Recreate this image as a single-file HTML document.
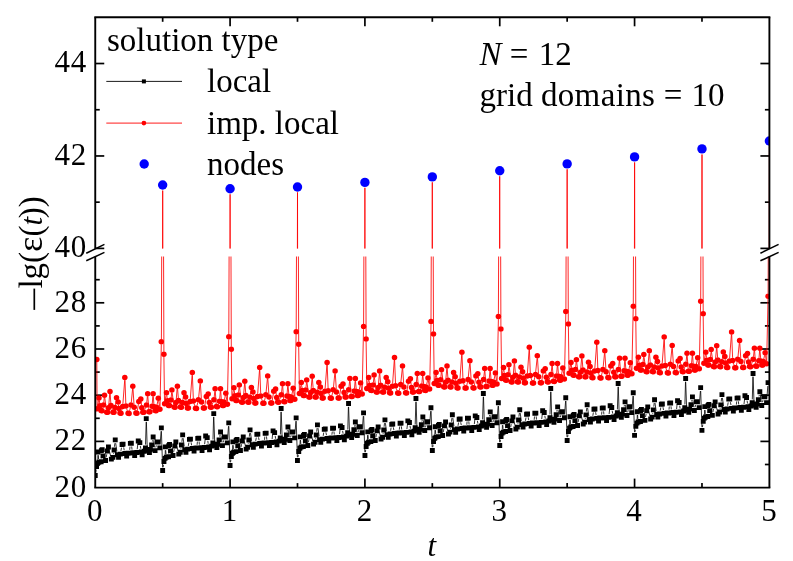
<!DOCTYPE html>
<html><head><meta charset="utf-8"><title>chart</title>
<style>html,body{margin:0;padding:0;background:#fff;}svg{display:block;}text{font-family:"Liberation Serif",serif;fill:#000;}</style>
</head><body>
<svg width="793" height="561" viewBox="0 0 793 561" style="will-change:transform">
<rect x="0" y="0" width="793" height="561" fill="#fff"/>
<defs><clipPath id="cp"><rect x="95.25" y="17.30" width="674.15" height="470.30"/></clipPath></defs>
<g stroke="#000" stroke-width="1.70" fill="none">
<line x1="162.66" y1="17.30" x2="162.66" y2="21.80"/>
<line x1="162.66" y1="487.60" x2="162.66" y2="483.10"/>
<line x1="230.08" y1="17.30" x2="230.08" y2="26.30"/>
<line x1="230.08" y1="487.60" x2="230.08" y2="478.60"/>
<line x1="297.50" y1="17.30" x2="297.50" y2="21.80"/>
<line x1="297.50" y1="487.60" x2="297.50" y2="483.10"/>
<line x1="364.91" y1="17.30" x2="364.91" y2="26.30"/>
<line x1="364.91" y1="487.60" x2="364.91" y2="478.60"/>
<line x1="432.32" y1="17.30" x2="432.32" y2="21.80"/>
<line x1="432.32" y1="487.60" x2="432.32" y2="483.10"/>
<line x1="499.74" y1="17.30" x2="499.74" y2="26.30"/>
<line x1="499.74" y1="487.60" x2="499.74" y2="478.60"/>
<line x1="567.15" y1="17.30" x2="567.15" y2="21.80"/>
<line x1="567.15" y1="487.60" x2="567.15" y2="483.10"/>
<line x1="634.57" y1="17.30" x2="634.57" y2="26.30"/>
<line x1="634.57" y1="487.60" x2="634.57" y2="478.60"/>
<line x1="701.98" y1="17.30" x2="701.98" y2="21.80"/>
<line x1="701.98" y1="487.60" x2="701.98" y2="483.10"/>
<line x1="95.25" y1="464.50" x2="99.75" y2="464.50"/>
<line x1="769.40" y1="464.50" x2="764.90" y2="464.50"/>
<line x1="95.25" y1="441.40" x2="104.25" y2="441.40"/>
<line x1="769.40" y1="441.40" x2="760.40" y2="441.40"/>
<line x1="95.25" y1="418.30" x2="99.75" y2="418.30"/>
<line x1="769.40" y1="418.30" x2="764.90" y2="418.30"/>
<line x1="95.25" y1="395.20" x2="104.25" y2="395.20"/>
<line x1="769.40" y1="395.20" x2="760.40" y2="395.20"/>
<line x1="95.25" y1="372.10" x2="99.75" y2="372.10"/>
<line x1="769.40" y1="372.10" x2="764.90" y2="372.10"/>
<line x1="95.25" y1="349.00" x2="104.25" y2="349.00"/>
<line x1="769.40" y1="349.00" x2="760.40" y2="349.00"/>
<line x1="95.25" y1="325.90" x2="99.75" y2="325.90"/>
<line x1="769.40" y1="325.90" x2="764.90" y2="325.90"/>
<line x1="95.25" y1="302.80" x2="104.25" y2="302.80"/>
<line x1="769.40" y1="302.80" x2="760.40" y2="302.80"/>
<line x1="95.25" y1="279.70" x2="99.75" y2="279.70"/>
<line x1="769.40" y1="279.70" x2="764.90" y2="279.70"/>
<line x1="95.25" y1="248.40" x2="104.25" y2="248.40"/>
<line x1="769.40" y1="248.40" x2="760.40" y2="248.40"/>
<line x1="95.25" y1="202.18" x2="99.75" y2="202.18"/>
<line x1="769.40" y1="202.18" x2="764.90" y2="202.18"/>
<line x1="95.25" y1="155.96" x2="104.25" y2="155.96"/>
<line x1="769.40" y1="155.96" x2="760.40" y2="155.96"/>
<line x1="95.25" y1="109.74" x2="99.75" y2="109.74"/>
<line x1="769.40" y1="109.74" x2="764.90" y2="109.74"/>
<line x1="95.25" y1="63.52" x2="104.25" y2="63.52"/>
<line x1="769.40" y1="63.52" x2="760.40" y2="63.52"/>
</g>
<defs><clipPath id="cl"><rect x="95.25" y="256.60" width="674.15" height="231.00"/></clipPath><clipPath id="cu"><rect x="95.25" y="17.30" width="674.15" height="231.10"/></clipPath></defs>
<g clip-path="url(#cl)">
<path fill="none" stroke="#000" stroke-width="0.8" d="M95.7,472.3L96.1,469.8M97.8,460.0L97.9,455.2M98.3,455.2L98.6,459.0M101.2,458.4L101.3,453.9M106.2,457.3L106.8,454.2M109.2,450.3L110.6,456.0M113.4,454.1L113.5,453.3M114.4,446.8L114.9,443.2M115.7,443.2L116.9,451.5M120.9,450.9L121.5,447.7M123.7,447.4L124.2,450.3M129.7,449.8L130.0,446.6M131.7,446.5L132.0,449.6M137.2,449.2L137.8,444.2M140.3,445.9L140.8,448.7M145.5,444.6L146.2,421.9M146.4,421.9L147.2,447.0M152.3,441.6L152.5,440.3M153.6,440.3L154.6,447.4M155.8,447.4L156.3,445.3M160.1,444.6L161.1,431.2M161.4,431.2L162.6,467.3M163.1,467.3L163.5,464.8M165.2,455.0L165.3,450.2M165.7,450.2L166.0,454.0M168.6,453.4L168.7,448.9M173.6,452.3L174.2,449.2M176.6,445.2L178.0,451.0M180.8,449.0L180.9,448.3M181.9,441.8L182.3,438.2M183.1,438.1L184.3,446.5M188.3,445.9L188.9,442.6M191.1,442.4L191.6,445.3M197.1,444.8L197.4,441.6M199.1,441.5L199.4,444.6M204.6,444.2L205.2,439.2M207.8,440.9L208.2,443.7M213.0,439.5L213.6,416.9M213.8,416.9L214.7,441.9M219.7,436.6L219.9,435.2M221.0,435.3L222.0,442.3M223.2,442.4L223.7,440.3M227.5,439.6L228.5,426.2M228.8,426.2L230.0,462.2M230.5,462.3L230.9,459.8M232.6,450.0L232.8,445.2M233.1,445.2L233.4,448.9M236.0,448.4L236.1,443.9M241.0,447.3L241.6,444.2M244.0,440.2L245.4,445.9M248.2,444.0L248.3,443.3M249.3,436.7L249.7,433.1M250.5,433.1L251.7,441.4M255.7,440.9L256.3,437.6M258.5,437.4L259.1,440.3M264.5,439.8L264.8,436.6M266.5,436.5L266.8,439.6M272.1,439.2L272.6,434.2M275.2,435.9L275.6,438.7M280.4,434.5L281.0,411.9M281.2,411.9L282.1,436.9M287.1,431.6L287.4,430.2M288.4,430.2L289.4,437.3M290.6,437.4L291.1,435.3M294.9,434.5L295.9,421.1M296.2,421.1L297.4,457.2M298.0,457.2L298.3,454.8M300.0,445.0L300.2,440.1M300.5,440.1L300.8,443.9M303.5,443.4L303.5,438.9M308.4,442.3L309.0,439.2M311.5,435.2L312.8,440.9M315.6,439.0L315.8,438.2M316.7,431.7L317.1,428.1M318.0,428.1L319.1,436.4M323.2,435.9L323.7,432.6M325.9,432.3L326.5,435.2M331.9,434.7L332.3,431.6M333.9,431.5L334.3,434.5M339.5,434.1L340.1,429.1M342.6,430.9L343.1,433.7M347.8,429.5L348.4,406.9M348.6,406.9L349.5,431.9M354.5,426.6L354.8,425.2M355.9,425.2L356.8,432.3M358.0,432.4L358.5,430.2M362.3,429.5L363.3,416.1M363.7,416.1L364.8,452.2M365.4,452.2L365.7,449.7M367.4,440.0L367.6,435.1M368.0,435.1L368.3,438.9M370.9,438.3L371.0,433.8M375.9,437.2L376.4,434.1M378.9,430.2L380.2,435.9M383.0,434.0L383.2,433.2M384.1,426.7L384.5,423.1M385.4,423.1L386.5,431.4M390.6,430.8L391.1,427.6M393.3,427.3L393.9,430.2M399.3,429.7L399.7,426.5M401.4,426.4L401.7,429.5M406.9,429.1L407.5,424.1M410.0,425.8L410.5,428.6M415.2,424.5L415.9,401.8M416.1,401.8L416.9,426.9M421.9,421.5L422.2,420.2M423.3,420.2L424.3,427.3M425.5,427.3L426.0,425.2M429.7,424.5L430.7,411.1M431.1,411.1L432.2,447.2M432.8,447.2L433.1,444.7M434.8,434.9L435.0,430.1M435.4,430.1L435.7,433.9M438.3,433.3L438.4,428.8M443.3,432.2L443.8,429.1M446.3,425.1L447.7,430.9M450.5,428.9L450.6,428.2M451.5,421.7L451.9,418.1M452.8,418.0L454.0,426.4M458.0,425.8L458.6,422.5M460.7,422.3L461.3,425.2M466.8,424.7L467.1,421.5M468.8,421.4L469.1,424.5M474.3,424.1L474.9,419.1M477.4,420.8L477.9,423.6M482.6,419.4L483.3,396.8M483.5,396.8L484.3,421.8M489.3,416.5L489.6,415.1M490.7,415.2L491.7,422.3M492.9,422.3L493.4,420.2M497.2,419.5L498.1,406.1M498.5,406.1L499.6,442.1M500.2,442.2L500.5,439.7M502.3,429.9L502.4,425.1M502.8,425.1L503.1,428.8M505.7,428.3L505.8,423.8M510.7,427.2L511.2,424.1M513.7,420.1L515.1,425.8M517.9,423.9L518.0,423.2M518.9,416.6L519.4,413.0M520.2,413.0L521.4,421.3M525.4,420.8L526.0,417.5M528.2,417.3L528.7,420.2M534.2,419.7L534.5,416.5M536.2,416.4L536.5,419.5M541.7,419.1L542.3,414.1M544.8,415.8L545.3,418.6M550.0,414.4L550.7,391.8M550.9,391.8L551.7,416.8M556.8,411.5L557.0,410.1M558.1,410.1L559.1,417.2M560.3,417.3L560.8,415.2M564.6,414.4L565.6,401.0M565.9,401.0L567.0,437.1M567.6,437.2L568.0,434.7M569.7,424.9L569.8,420.0M570.2,420.0L570.5,423.8M573.1,423.3L573.2,418.8M578.1,422.2L578.7,419.1M581.1,415.1L582.5,420.8M585.3,418.9L585.4,418.1M586.3,411.6L586.8,408.0M587.6,408.0L588.8,416.3M592.8,415.8L593.4,412.5M595.6,412.2L596.1,415.1M601.6,414.6L601.9,411.5M603.6,411.4L603.9,414.4M609.1,414.0L609.7,409.0M612.2,410.8L612.7,413.6M617.4,409.4L618.1,386.8M618.3,386.8L619.1,411.8M624.2,406.5L624.4,405.1M625.5,405.1L626.5,412.2M627.7,412.3L628.2,410.1M632.0,409.4L633.0,396.0M633.3,396.0L634.5,432.1M635.0,432.1L635.4,429.7M637.1,419.9L637.3,415.0M637.6,415.0L637.9,418.8M640.5,418.2L640.6,413.7M645.5,417.1L646.1,414.0M648.5,410.1L649.9,415.8M652.7,413.9L652.8,413.1M653.8,406.6L654.2,403.0M655.0,403.0L656.2,411.3M660.2,410.7L660.8,407.5M663.0,407.2L663.5,410.1M669.0,409.6L669.3,406.5M671.0,406.3L671.3,409.4M676.6,409.0L677.1,404.0M679.7,405.7L680.1,408.5M684.9,404.4L685.5,381.8M685.7,381.8L686.6,406.8M691.6,401.4L691.9,400.1M692.9,400.1L693.9,407.2M695.1,407.2L695.6,405.1M699.4,404.4L700.4,391.0M700.7,391.0L701.9,427.1M702.4,427.1L702.8,424.6M704.5,414.8L704.7,410.0M705.0,410.0L705.3,413.8M707.9,413.2L708.0,408.7M712.9,412.1L713.5,409.0M716.0,405.1L717.3,410.8M720.1,408.8L720.2,408.1M721.2,401.6L721.6,398.0M722.4,397.9L723.6,406.3M727.6,405.7L728.2,402.4M730.4,402.2L731.0,405.1M736.4,404.6L736.7,401.4M738.4,401.3L738.7,404.4M744.0,404.0L744.6,399.0M747.1,400.7L747.5,403.5M752.3,399.4L752.9,376.7M753.1,376.7L754.0,401.7M759.0,396.4L759.3,395.0M760.3,395.1L761.3,402.2M762.5,402.2L763.0,400.1M766.8,399.4L767.8,386.0"/>
<path fill="#000" d="M92.8,473.1h4.9v4.9h-4.9zM94.1,464.1h4.9v4.9h-4.9zM95.2,460.9h4.9v4.9h-4.9zM95.6,449.5h4.9v4.9h-4.9zM96.4,459.8h4.9v4.9h-4.9zM98.7,459.3h4.9v4.9h-4.9zM98.9,448.2h4.9v4.9h-4.9zM99.7,447.2h4.9v4.9h-4.9zM100.7,453.4h4.9v4.9h-4.9zM103.1,458.1h4.9v4.9h-4.9zM104.9,448.5h4.9v4.9h-4.9zM106.0,444.6h4.9v4.9h-4.9zM108.9,456.7h4.9v4.9h-4.9zM110.4,454.9h4.9v4.9h-4.9zM111.6,447.6h4.9v4.9h-4.9zM112.8,437.4h4.9v4.9h-4.9zM114.9,452.3h4.9v4.9h-4.9zM116.1,454.9h4.9v4.9h-4.9zM117.9,451.7h4.9v4.9h-4.9zM119.6,442.0h4.9v4.9h-4.9zM120.6,441.7h4.9v4.9h-4.9zM122.4,451.1h4.9v4.9h-4.9zM124.2,453.7h4.9v4.9h-4.9zM125.4,450.8h4.9v4.9h-4.9zM126.9,450.7h4.9v4.9h-4.9zM127.9,440.9h4.9v4.9h-4.9zM128.9,440.8h4.9v4.9h-4.9zM129.9,450.4h4.9v4.9h-4.9zM131.4,450.3h4.9v4.9h-4.9zM132.2,453.2h4.9v4.9h-4.9zM134.4,450.0h4.9v4.9h-4.9zM135.8,438.5h4.9v4.9h-4.9zM137.4,440.2h4.9v4.9h-4.9zM138.9,449.5h4.9v4.9h-4.9zM139.7,452.3h4.9v4.9h-4.9zM141.9,448.8h4.9v4.9h-4.9zM143.0,445.4h4.9v4.9h-4.9zM143.8,416.2h4.9v4.9h-4.9zM144.9,447.8h4.9v4.9h-4.9zM147.0,450.0h4.9v4.9h-4.9zM147.9,446.9h4.9v4.9h-4.9zM149.2,442.4h4.9v4.9h-4.9zM150.7,434.6h4.9v4.9h-4.9zM152.6,448.2h4.9v4.9h-4.9zM154.6,439.6h4.9v4.9h-4.9zM155.4,439.4h4.9v4.9h-4.9zM157.4,445.4h4.9v4.9h-4.9zM158.9,425.4h4.9v4.9h-4.9zM160.2,468.1h4.9v4.9h-4.9zM161.5,459.1h4.9v4.9h-4.9zM162.6,455.9h4.9v4.9h-4.9zM163.0,444.4h4.9v4.9h-4.9zM163.8,454.8h4.9v4.9h-4.9zM166.1,454.3h4.9v4.9h-4.9zM166.3,443.2h4.9v4.9h-4.9zM167.1,442.1h4.9v4.9h-4.9zM168.1,448.4h4.9v4.9h-4.9zM170.6,453.1h4.9v4.9h-4.9zM172.3,443.5h4.9v4.9h-4.9zM173.4,439.6h4.9v4.9h-4.9zM176.3,451.7h4.9v4.9h-4.9zM177.8,449.8h4.9v4.9h-4.9zM179.0,442.6h4.9v4.9h-4.9zM180.2,432.4h4.9v4.9h-4.9zM182.3,447.3h4.9v4.9h-4.9zM183.5,449.9h4.9v4.9h-4.9zM185.3,446.7h4.9v4.9h-4.9zM187.0,436.9h4.9v4.9h-4.9zM188.0,436.7h4.9v4.9h-4.9zM189.8,446.1h4.9v4.9h-4.9zM191.6,448.7h4.9v4.9h-4.9zM192.8,445.7h4.9v4.9h-4.9zM194.3,445.6h4.9v4.9h-4.9zM195.3,435.9h4.9v4.9h-4.9zM196.3,435.8h4.9v4.9h-4.9zM197.3,445.4h4.9v4.9h-4.9zM198.8,445.3h4.9v4.9h-4.9zM199.6,448.1h4.9v4.9h-4.9zM201.8,445.0h4.9v4.9h-4.9zM203.2,433.5h4.9v4.9h-4.9zM204.8,435.2h4.9v4.9h-4.9zM206.3,444.5h4.9v4.9h-4.9zM207.1,447.3h4.9v4.9h-4.9zM209.3,443.7h4.9v4.9h-4.9zM210.4,440.4h4.9v4.9h-4.9zM211.3,411.2h4.9v4.9h-4.9zM212.3,442.8h4.9v4.9h-4.9zM214.4,445.0h4.9v4.9h-4.9zM215.3,441.8h4.9v4.9h-4.9zM216.6,437.4h4.9v4.9h-4.9zM218.1,429.5h4.9v4.9h-4.9zM220.0,443.2h4.9v4.9h-4.9zM222.0,434.6h4.9v4.9h-4.9zM222.8,434.4h4.9v4.9h-4.9zM224.8,440.4h4.9v4.9h-4.9zM226.3,420.4h4.9v4.9h-4.9zM227.6,463.1h4.9v4.9h-4.9zM228.9,454.1h4.9v4.9h-4.9zM230.0,450.8h4.9v4.9h-4.9zM230.4,439.4h4.9v4.9h-4.9zM231.2,449.8h4.9v4.9h-4.9zM233.5,449.2h4.9v4.9h-4.9zM233.7,438.1h4.9v4.9h-4.9zM234.5,437.1h4.9v4.9h-4.9zM235.5,443.3h4.9v4.9h-4.9zM238.0,448.1h4.9v4.9h-4.9zM239.7,438.5h4.9v4.9h-4.9zM240.8,434.6h4.9v4.9h-4.9zM243.7,446.7h4.9v4.9h-4.9zM245.2,444.8h4.9v4.9h-4.9zM246.4,437.6h4.9v4.9h-4.9zM247.6,427.4h4.9v4.9h-4.9zM249.7,442.3h4.9v4.9h-4.9zM250.9,444.8h4.9v4.9h-4.9zM252.7,441.7h4.9v4.9h-4.9zM254.4,431.9h4.9v4.9h-4.9zM255.4,431.7h4.9v4.9h-4.9zM257.2,441.1h4.9v4.9h-4.9zM259.0,443.7h4.9v4.9h-4.9zM260.2,440.7h4.9v4.9h-4.9zM261.7,440.6h4.9v4.9h-4.9zM262.7,430.9h4.9v4.9h-4.9zM263.7,430.7h4.9v4.9h-4.9zM264.7,440.4h4.9v4.9h-4.9zM266.2,440.3h4.9v4.9h-4.9zM267.0,443.1h4.9v4.9h-4.9zM269.2,440.0h4.9v4.9h-4.9zM270.6,428.4h4.9v4.9h-4.9zM272.2,430.2h4.9v4.9h-4.9zM273.7,439.5h4.9v4.9h-4.9zM274.5,442.3h4.9v4.9h-4.9zM276.7,438.7h4.9v4.9h-4.9zM277.8,435.4h4.9v4.9h-4.9zM278.7,406.1h4.9v4.9h-4.9zM279.7,437.8h4.9v4.9h-4.9zM281.8,440.0h4.9v4.9h-4.9zM282.7,436.8h4.9v4.9h-4.9zM284.0,432.4h4.9v4.9h-4.9zM285.5,424.5h4.9v4.9h-4.9zM287.4,438.1h4.9v4.9h-4.9zM289.4,429.6h4.9v4.9h-4.9zM290.2,429.4h4.9v4.9h-4.9zM292.2,435.4h4.9v4.9h-4.9zM293.7,415.4h4.9v4.9h-4.9zM295.0,458.1h4.9v4.9h-4.9zM296.3,449.1h4.9v4.9h-4.9zM297.4,445.8h4.9v4.9h-4.9zM297.8,434.4h4.9v4.9h-4.9zM298.6,444.7h4.9v4.9h-4.9zM300.9,444.2h4.9v4.9h-4.9zM301.1,433.1h4.9v4.9h-4.9zM301.9,432.1h4.9v4.9h-4.9zM302.9,438.3h4.9v4.9h-4.9zM305.4,443.1h4.9v4.9h-4.9zM307.1,433.5h4.9v4.9h-4.9zM308.2,429.5h4.9v4.9h-4.9zM311.1,441.7h4.9v4.9h-4.9zM312.6,439.8h4.9v4.9h-4.9zM313.8,432.5h4.9v4.9h-4.9zM315.0,422.4h4.9v4.9h-4.9zM317.1,437.2h4.9v4.9h-4.9zM318.3,439.8h4.9v4.9h-4.9zM320.1,436.7h4.9v4.9h-4.9zM321.8,426.9h4.9v4.9h-4.9zM322.8,426.6h4.9v4.9h-4.9zM324.6,436.0h4.9v4.9h-4.9zM326.4,438.7h4.9v4.9h-4.9zM327.6,435.7h4.9v4.9h-4.9zM329.1,435.6h4.9v4.9h-4.9zM330.1,425.8h4.9v4.9h-4.9zM331.1,425.7h4.9v4.9h-4.9zM332.1,435.4h4.9v4.9h-4.9zM333.6,435.3h4.9v4.9h-4.9zM334.4,438.1h4.9v4.9h-4.9zM336.6,435.0h4.9v4.9h-4.9zM338.0,423.4h4.9v4.9h-4.9zM339.6,425.1h4.9v4.9h-4.9zM341.1,434.5h4.9v4.9h-4.9zM341.9,437.3h4.9v4.9h-4.9zM344.1,433.7h4.9v4.9h-4.9zM345.2,430.3h4.9v4.9h-4.9zM346.1,401.1h4.9v4.9h-4.9zM347.1,432.7h4.9v4.9h-4.9zM349.2,435.0h4.9v4.9h-4.9zM350.1,431.8h4.9v4.9h-4.9zM351.4,427.3h4.9v4.9h-4.9zM352.9,419.5h4.9v4.9h-4.9zM354.8,433.1h4.9v4.9h-4.9zM356.8,424.6h4.9v4.9h-4.9zM357.6,424.3h4.9v4.9h-4.9zM359.6,430.3h4.9v4.9h-4.9zM361.1,410.4h4.9v4.9h-4.9zM362.5,453.0h4.9v4.9h-4.9zM363.7,444.0h4.9v4.9h-4.9zM364.9,440.8h4.9v4.9h-4.9zM365.3,429.4h4.9v4.9h-4.9zM366.1,439.7h4.9v4.9h-4.9zM368.4,439.2h4.9v4.9h-4.9zM368.6,428.1h4.9v4.9h-4.9zM369.4,427.1h4.9v4.9h-4.9zM370.4,433.3h4.9v4.9h-4.9zM372.8,438.0h4.9v4.9h-4.9zM374.6,428.4h4.9v4.9h-4.9zM375.7,424.5h4.9v4.9h-4.9zM378.6,436.6h4.9v4.9h-4.9zM380.1,434.8h4.9v4.9h-4.9zM381.3,427.5h4.9v4.9h-4.9zM382.5,417.4h4.9v4.9h-4.9zM384.6,432.2h4.9v4.9h-4.9zM385.8,434.8h4.9v4.9h-4.9zM387.6,431.6h4.9v4.9h-4.9zM389.3,421.9h4.9v4.9h-4.9zM390.3,421.6h4.9v4.9h-4.9zM392.1,431.0h4.9v4.9h-4.9zM393.9,433.6h4.9v4.9h-4.9zM395.1,430.7h4.9v4.9h-4.9zM396.6,430.6h4.9v4.9h-4.9zM397.6,420.8h4.9v4.9h-4.9zM398.6,420.7h4.9v4.9h-4.9zM399.6,430.3h4.9v4.9h-4.9zM401.1,430.2h4.9v4.9h-4.9zM401.9,433.1h4.9v4.9h-4.9zM404.1,429.9h4.9v4.9h-4.9zM405.4,418.4h4.9v4.9h-4.9zM407.0,420.1h4.9v4.9h-4.9zM408.6,429.4h4.9v4.9h-4.9zM409.4,432.3h4.9v4.9h-4.9zM411.6,428.7h4.9v4.9h-4.9zM412.7,425.3h4.9v4.9h-4.9zM413.5,396.1h4.9v4.9h-4.9zM414.6,427.7h4.9v4.9h-4.9zM416.7,429.9h4.9v4.9h-4.9zM417.6,426.8h4.9v4.9h-4.9zM418.9,422.3h4.9v4.9h-4.9zM420.4,414.5h4.9v4.9h-4.9zM422.3,428.1h4.9v4.9h-4.9zM424.3,419.5h4.9v4.9h-4.9zM425.1,419.3h4.9v4.9h-4.9zM427.1,425.3h4.9v4.9h-4.9zM428.5,405.3h4.9v4.9h-4.9zM429.9,448.0h4.9v4.9h-4.9zM431.1,439.0h4.9v4.9h-4.9zM432.3,435.8h4.9v4.9h-4.9zM432.7,424.3h4.9v4.9h-4.9zM433.5,434.7h4.9v4.9h-4.9zM435.8,434.2h4.9v4.9h-4.9zM436.0,423.1h4.9v4.9h-4.9zM436.8,422.0h4.9v4.9h-4.9zM437.8,428.3h4.9v4.9h-4.9zM440.2,433.0h4.9v4.9h-4.9zM442.0,423.4h4.9v4.9h-4.9zM443.1,419.5h4.9v4.9h-4.9zM446.0,431.6h4.9v4.9h-4.9zM447.5,429.7h4.9v4.9h-4.9zM448.7,422.5h4.9v4.9h-4.9zM449.9,412.3h4.9v4.9h-4.9zM452.0,427.2h4.9v4.9h-4.9zM453.2,429.8h4.9v4.9h-4.9zM455.0,426.6h4.9v4.9h-4.9zM456.7,416.8h4.9v4.9h-4.9zM457.7,416.6h4.9v4.9h-4.9zM459.5,426.0h4.9v4.9h-4.9zM461.3,428.6h4.9v4.9h-4.9zM462.5,425.6h4.9v4.9h-4.9zM464.0,425.5h4.9v4.9h-4.9zM465.0,415.8h4.9v4.9h-4.9zM466.0,415.7h4.9v4.9h-4.9zM467.0,425.3h4.9v4.9h-4.9zM468.5,425.2h4.9v4.9h-4.9zM469.3,428.0h4.9v4.9h-4.9zM471.5,424.9h4.9v4.9h-4.9zM472.8,413.4h4.9v4.9h-4.9zM474.4,415.1h4.9v4.9h-4.9zM476.0,424.4h4.9v4.9h-4.9zM476.8,427.2h4.9v4.9h-4.9zM479.0,423.6h4.9v4.9h-4.9zM480.1,420.3h4.9v4.9h-4.9zM480.9,391.1h4.9v4.9h-4.9zM482.0,422.7h4.9v4.9h-4.9zM484.1,424.9h4.9v4.9h-4.9zM485.0,421.7h4.9v4.9h-4.9zM486.3,417.3h4.9v4.9h-4.9zM487.8,409.4h4.9v4.9h-4.9zM489.7,423.1h4.9v4.9h-4.9zM491.7,414.5h4.9v4.9h-4.9zM492.5,414.3h4.9v4.9h-4.9zM494.5,420.3h4.9v4.9h-4.9zM495.9,400.3h4.9v4.9h-4.9zM497.3,443.0h4.9v4.9h-4.9zM498.6,434.0h4.9v4.9h-4.9zM499.7,430.7h4.9v4.9h-4.9zM500.1,419.3h4.9v4.9h-4.9zM500.9,429.7h4.9v4.9h-4.9zM503.2,429.1h4.9v4.9h-4.9zM503.4,418.0h4.9v4.9h-4.9zM504.2,417.0h4.9v4.9h-4.9zM505.2,423.2h4.9v4.9h-4.9zM507.6,428.0h4.9v4.9h-4.9zM509.4,418.4h4.9v4.9h-4.9zM510.5,414.5h4.9v4.9h-4.9zM513.4,426.6h4.9v4.9h-4.9zM514.9,424.7h4.9v4.9h-4.9zM516.1,417.5h4.9v4.9h-4.9zM517.3,407.3h4.9v4.9h-4.9zM519.4,422.2h4.9v4.9h-4.9zM520.6,424.7h4.9v4.9h-4.9zM522.4,421.6h4.9v4.9h-4.9zM524.1,411.8h4.9v4.9h-4.9zM525.1,411.6h4.9v4.9h-4.9zM526.9,421.0h4.9v4.9h-4.9zM528.7,423.6h4.9v4.9h-4.9zM529.9,420.6h4.9v4.9h-4.9zM531.4,420.5h4.9v4.9h-4.9zM532.4,410.8h4.9v4.9h-4.9zM533.4,410.7h4.9v4.9h-4.9zM534.4,420.3h4.9v4.9h-4.9zM535.9,420.2h4.9v4.9h-4.9zM536.7,423.0h4.9v4.9h-4.9zM538.9,419.9h4.9v4.9h-4.9zM540.2,408.3h4.9v4.9h-4.9zM541.8,410.1h4.9v4.9h-4.9zM543.4,419.4h4.9v4.9h-4.9zM544.2,422.2h4.9v4.9h-4.9zM546.4,418.6h4.9v4.9h-4.9zM547.5,415.3h4.9v4.9h-4.9zM548.3,386.1h4.9v4.9h-4.9zM549.4,417.7h4.9v4.9h-4.9zM551.5,419.9h4.9v4.9h-4.9zM552.4,416.7h4.9v4.9h-4.9zM553.7,412.3h4.9v4.9h-4.9zM555.2,404.4h4.9v4.9h-4.9zM557.1,418.0h4.9v4.9h-4.9zM559.1,409.5h4.9v4.9h-4.9zM559.9,409.3h4.9v4.9h-4.9zM561.9,415.3h4.9v4.9h-4.9zM563.3,395.3h4.9v4.9h-4.9zM564.7,438.0h4.9v4.9h-4.9zM566.0,429.0h4.9v4.9h-4.9zM567.1,425.7h4.9v4.9h-4.9zM567.5,414.3h4.9v4.9h-4.9zM568.3,424.6h4.9v4.9h-4.9zM570.6,424.1h4.9v4.9h-4.9zM570.8,413.0h4.9v4.9h-4.9zM571.6,412.0h4.9v4.9h-4.9zM572.6,418.2h4.9v4.9h-4.9zM575.1,423.0h4.9v4.9h-4.9zM576.8,413.4h4.9v4.9h-4.9zM577.9,409.4h4.9v4.9h-4.9zM580.8,421.6h4.9v4.9h-4.9zM582.3,419.7h4.9v4.9h-4.9zM583.5,412.4h4.9v4.9h-4.9zM584.7,402.3h4.9v4.9h-4.9zM586.8,417.1h4.9v4.9h-4.9zM588.0,419.7h4.9v4.9h-4.9zM589.8,416.6h4.9v4.9h-4.9zM591.5,406.8h4.9v4.9h-4.9zM592.5,406.6h4.9v4.9h-4.9zM594.3,415.9h4.9v4.9h-4.9zM596.1,418.6h4.9v4.9h-4.9zM597.3,415.6h4.9v4.9h-4.9zM598.8,415.5h4.9v4.9h-4.9zM599.8,405.7h4.9v4.9h-4.9zM600.8,405.6h4.9v4.9h-4.9zM601.8,415.3h4.9v4.9h-4.9zM603.3,415.2h4.9v4.9h-4.9zM604.1,418.0h4.9v4.9h-4.9zM606.3,414.9h4.9v4.9h-4.9zM607.7,403.3h4.9v4.9h-4.9zM609.3,405.1h4.9v4.9h-4.9zM610.8,414.4h4.9v4.9h-4.9zM611.6,417.2h4.9v4.9h-4.9zM613.8,413.6h4.9v4.9h-4.9zM614.9,410.2h4.9v4.9h-4.9zM615.7,381.0h4.9v4.9h-4.9zM616.8,412.6h4.9v4.9h-4.9zM618.9,414.9h4.9v4.9h-4.9zM619.8,411.7h4.9v4.9h-4.9zM621.1,407.2h4.9v4.9h-4.9zM622.6,399.4h4.9v4.9h-4.9zM624.5,413.0h4.9v4.9h-4.9zM626.5,404.5h4.9v4.9h-4.9zM627.3,404.2h4.9v4.9h-4.9zM629.3,410.2h4.9v4.9h-4.9zM630.8,390.3h4.9v4.9h-4.9zM632.1,432.9h4.9v4.9h-4.9zM633.4,423.9h4.9v4.9h-4.9zM634.5,420.7h4.9v4.9h-4.9zM634.9,409.3h4.9v4.9h-4.9zM635.7,419.6h4.9v4.9h-4.9zM638.0,419.1h4.9v4.9h-4.9zM638.2,408.0h4.9v4.9h-4.9zM639.0,407.0h4.9v4.9h-4.9zM640.0,413.2h4.9v4.9h-4.9zM642.5,417.9h4.9v4.9h-4.9zM644.2,408.3h4.9v4.9h-4.9zM645.3,404.4h4.9v4.9h-4.9zM648.2,416.5h4.9v4.9h-4.9zM649.7,414.7h4.9v4.9h-4.9zM650.9,407.4h4.9v4.9h-4.9zM652.1,397.3h4.9v4.9h-4.9zM654.2,412.1h4.9v4.9h-4.9zM655.4,414.7h4.9v4.9h-4.9zM657.2,411.6h4.9v4.9h-4.9zM658.9,401.8h4.9v4.9h-4.9zM659.9,401.5h4.9v4.9h-4.9zM661.7,410.9h4.9v4.9h-4.9zM663.5,413.5h4.9v4.9h-4.9zM664.7,410.6h4.9v4.9h-4.9zM666.2,410.5h4.9v4.9h-4.9zM667.2,400.7h4.9v4.9h-4.9zM668.2,400.6h4.9v4.9h-4.9zM669.2,410.2h4.9v4.9h-4.9zM670.7,410.1h4.9v4.9h-4.9zM671.5,413.0h4.9v4.9h-4.9zM673.7,409.8h4.9v4.9h-4.9zM675.1,398.3h4.9v4.9h-4.9zM676.7,400.0h4.9v4.9h-4.9zM678.2,409.4h4.9v4.9h-4.9zM679.0,412.2h4.9v4.9h-4.9zM681.2,408.6h4.9v4.9h-4.9zM682.3,405.2h4.9v4.9h-4.9zM683.2,376.0h4.9v4.9h-4.9zM684.2,407.6h4.9v4.9h-4.9zM686.3,409.8h4.9v4.9h-4.9zM687.2,406.7h4.9v4.9h-4.9zM688.5,402.2h4.9v4.9h-4.9zM690.0,394.4h4.9v4.9h-4.9zM691.9,408.0h4.9v4.9h-4.9zM693.9,399.4h4.9v4.9h-4.9zM694.7,399.2h4.9v4.9h-4.9zM696.7,405.2h4.9v4.9h-4.9zM698.2,385.2h4.9v4.9h-4.9zM699.5,427.9h4.9v4.9h-4.9zM700.8,418.9h4.9v4.9h-4.9zM701.9,415.7h4.9v4.9h-4.9zM702.3,404.2h4.9v4.9h-4.9zM703.1,414.6h4.9v4.9h-4.9zM705.4,414.1h4.9v4.9h-4.9zM705.6,403.0h4.9v4.9h-4.9zM706.4,401.9h4.9v4.9h-4.9zM707.4,408.2h4.9v4.9h-4.9zM709.9,412.9h4.9v4.9h-4.9zM711.6,403.3h4.9v4.9h-4.9zM712.7,399.4h4.9v4.9h-4.9zM715.6,411.5h4.9v4.9h-4.9zM717.1,409.6h4.9v4.9h-4.9zM718.3,402.4h4.9v4.9h-4.9zM719.5,392.2h4.9v4.9h-4.9zM721.6,407.1h4.9v4.9h-4.9zM722.8,409.7h4.9v4.9h-4.9zM724.6,406.5h4.9v4.9h-4.9zM726.3,396.7h4.9v4.9h-4.9zM727.3,396.5h4.9v4.9h-4.9zM729.1,405.9h4.9v4.9h-4.9zM730.9,408.5h4.9v4.9h-4.9zM732.1,405.5h4.9v4.9h-4.9zM733.6,405.4h4.9v4.9h-4.9zM734.6,395.7h4.9v4.9h-4.9zM735.6,395.6h4.9v4.9h-4.9zM736.6,405.2h4.9v4.9h-4.9zM738.1,405.1h4.9v4.9h-4.9zM738.9,407.9h4.9v4.9h-4.9zM741.1,404.8h4.9v4.9h-4.9zM742.5,393.3h4.9v4.9h-4.9zM744.1,395.0h4.9v4.9h-4.9zM745.6,404.3h4.9v4.9h-4.9zM746.4,407.1h4.9v4.9h-4.9zM748.6,403.5h4.9v4.9h-4.9zM749.7,400.2h4.9v4.9h-4.9zM750.6,371.0h4.9v4.9h-4.9zM751.6,402.6h4.9v4.9h-4.9zM753.7,404.8h4.9v4.9h-4.9zM754.6,401.6h4.9v4.9h-4.9zM755.9,397.2h4.9v4.9h-4.9zM757.4,389.3h4.9v4.9h-4.9zM759.3,403.0h4.9v4.9h-4.9zM761.3,394.4h4.9v4.9h-4.9zM762.1,394.2h4.9v4.9h-4.9zM764.1,400.2h4.9v4.9h-4.9zM765.6,380.2h4.9v4.9h-4.9z"/>
</g>
<g clip-path="url(#cl)">
<path fill="none" stroke="#ff0000" stroke-width="0.85" d="M96.8,362.0L97.1,406.2M97.6,406.3L98.6,400.4M99.4,400.4L99.7,403.2M102.7,408.2L102.9,407.6M103.8,402.5L104.2,397.8M104.8,397.8L106.3,409.6M108.8,405.1L109.7,394.0M110.2,394.0L110.8,403.0M111.8,408.1L112.2,409.7M115.4,404.9L116.2,400.3M118.4,404.7L118.6,406.0M121.6,410.7L122.0,409.0M122.9,403.9L124.7,380.2M125.0,380.2L125.8,403.5M126.7,408.6L127.3,410.8M129.6,410.9L130.4,407.4M131.3,402.3L132.6,388.8M133.0,388.8L134.0,404.6M134.9,409.7L135.2,410.6M137.4,410.7L138.4,404.0M141.1,401.7L141.5,405.1M144.7,409.8L145.6,407.3M146.8,402.3L147.4,396.4M147.8,396.4L148.8,409.1M150.9,409.4L151.1,408.7M152.3,403.7L152.8,396.4M153.3,396.4L153.9,404.2M157.1,404.7L157.8,400.9M158.7,400.9L159.6,406.7M160.0,406.7L161.3,344.4M161.4,339.2L162.6,-0.5M162.7,-0.5L163.9,351.7M163.9,356.9L164.5,401.2M165.0,401.2L166.0,395.3M166.8,395.4L167.1,398.2M170.1,403.1L170.3,402.6M171.2,397.5L171.6,392.7M172.2,392.7L173.7,404.5M176.2,400.0L177.1,388.9M177.6,388.9L178.3,397.9M179.2,403.0L179.6,404.6M182.9,399.8L183.6,395.2M185.8,399.6L186.0,400.9M189.0,405.6L189.5,404.0M190.3,398.9L192.1,375.2M192.4,375.2L193.3,398.4M194.1,403.5L194.7,405.8M197.0,405.8L197.8,402.4M198.7,397.2L200.0,383.7M200.4,383.7L201.4,399.5M202.4,404.6L202.6,405.5M204.8,405.6L205.9,398.9M208.5,396.6L208.9,400.0M212.1,404.8L213.0,402.3M214.2,397.2L214.8,391.3M215.3,391.3L216.2,404.1M218.3,404.3L218.5,403.6M219.7,398.6L220.3,391.3M220.7,391.3L221.3,399.1M224.5,399.6L225.2,395.8M226.1,395.8L227.0,401.6M227.4,401.6L228.7,339.4M228.8,334.2L230.1,1.3M230.1,1.3L231.3,346.7M231.3,351.9L231.9,396.1M232.4,396.1L233.4,390.3M234.2,390.3L234.6,393.1M237.6,398.0L237.7,397.5M238.6,392.4L239.0,387.6M239.6,387.6L241.1,399.5M243.6,394.9L244.6,383.8M245.0,383.8L245.7,392.9M246.6,398.0L247.1,399.5M250.3,394.7L251.0,390.2M253.3,394.6L253.4,395.9M256.4,400.6L256.9,398.9M257.7,393.8L259.5,370.1M259.8,370.1L260.7,393.3M261.5,398.4L262.2,400.7M264.5,400.8L265.3,397.3M266.1,392.2L267.4,378.6M267.8,378.6L268.9,394.5M269.8,399.6L270.0,400.5M272.2,400.5L273.3,393.9M275.9,391.6L276.3,395.0M279.6,399.7L280.5,397.2M281.6,392.2L282.2,386.3M282.7,386.3L283.6,399.0M285.7,399.3L286.0,398.6M287.1,393.6L287.7,386.3M288.1,386.3L288.8,394.0M291.9,394.5L292.7,390.7M293.6,390.8L294.4,396.6M294.8,396.6L296.1,334.3M296.2,329.1L297.5,0.4M297.5,0.4L298.7,341.6M298.7,346.8L299.4,391.0M299.8,391.1L300.9,385.2M301.6,385.2L302.0,388.0M305.0,393.0L305.1,392.4M306.0,387.3L306.5,382.6M307.0,382.6L308.6,394.4M311.0,389.9L312.0,378.8M312.4,378.8L313.1,387.8M314.0,392.9L314.5,394.5M317.7,389.7L318.4,385.1M320.7,389.5L320.8,390.8M323.9,395.5L324.3,393.8M325.1,388.7L326.9,365.0M327.2,365.0L328.1,388.2M328.9,393.3L329.6,395.6M331.9,395.7L332.7,392.2M333.5,387.1L334.8,373.6M335.3,373.6L336.3,389.4M337.2,394.5L337.5,395.4M339.6,395.4L340.7,388.8M343.3,386.5L343.8,389.9M347.0,394.6L347.9,392.1M349.0,387.1L349.6,381.2M350.1,381.2L351.0,393.9M353.1,394.2L353.4,393.5M354.5,388.5L355.1,381.2M355.5,381.2L356.2,388.9M359.3,389.5L360.1,385.7M361.0,385.7L361.8,391.5M362.2,391.5L363.5,329.2M363.6,324.0L364.9,-1.9M364.9,-1.9L366.1,336.5M366.1,341.7L366.8,385.9M367.3,386.0L368.3,380.1M369.0,380.2L369.4,383.0M372.4,387.9L372.5,387.4M373.4,382.3L373.9,377.5M374.4,377.5L376.0,389.3M378.4,384.8L379.4,373.7M379.8,373.7L380.5,382.7M381.4,387.8L381.9,389.4M385.1,384.6L385.8,380.0M388.1,384.4L388.2,385.7M391.3,390.4L391.7,388.8M392.6,383.6L394.3,360.0M394.6,360.0L395.5,383.2M396.3,388.3L397.0,390.6M399.3,390.6L400.1,387.2M400.9,382.0L402.3,368.5M402.7,368.5L403.7,384.3M404.6,389.4L404.9,390.3M407.0,390.4L408.1,383.7M410.7,381.4L411.2,384.8M414.4,389.6L415.3,387.1M416.4,382.0L417.0,376.1M417.5,376.1L418.4,388.8M420.5,389.1L420.8,388.4M421.9,383.4L422.5,376.1M422.9,376.1L423.6,383.9M426.7,384.4L427.5,380.6M428.4,380.6L429.2,386.4M429.7,386.4L431.0,324.2M431.0,319.0L432.3,-4.7M432.3,-4.7L433.5,331.4M433.6,336.6L434.2,380.9M434.7,380.9L435.7,375.1M436.4,375.1L436.8,377.9M439.8,382.8L439.9,382.3M440.9,377.2L441.3,372.4M441.9,372.4L443.4,384.2M445.8,379.7L446.8,368.6M447.2,368.6L447.9,377.7M448.8,382.7L449.3,384.3M452.5,379.5L453.2,375.0M455.5,379.4L455.6,380.7M458.7,385.4L459.1,383.7M460.0,378.6L461.7,354.9M462.0,354.9L462.9,378.1M463.7,383.2L464.4,385.5M466.7,385.6L467.5,382.1M468.3,377.0L469.7,363.4M470.1,363.4L471.1,379.3M472.0,384.4L472.3,385.3M474.4,385.3L475.5,378.7M478.2,376.4L478.6,379.7M481.8,384.5L482.7,382.0M483.8,377.0L484.5,371.0M484.9,371.1L485.8,383.8M487.9,384.0L488.2,383.4M489.3,378.3L489.9,371.1M490.3,371.1L491.0,378.8M494.1,379.3L494.9,375.5M495.8,375.5L496.6,381.4M497.1,381.3L498.4,319.1M498.4,313.9L499.7,-7.7M499.8,-7.7L500.9,326.4M501.0,331.6L501.6,375.8M502.1,375.8L503.1,370.0M503.9,370.0L504.2,372.8M507.2,377.7L507.4,377.2M508.3,372.1L508.7,367.4M509.3,367.4L510.8,379.2M513.3,374.7L514.2,363.6M514.6,363.6L515.3,372.6M516.3,377.7L516.7,379.3M519.9,374.5L520.6,369.9M522.9,374.3L523.1,375.6M526.1,380.3L526.5,378.6M527.4,373.5L529.1,349.8M529.4,349.8L530.3,373.0M531.2,378.1L531.8,380.4M534.1,380.5L534.9,377.0M535.7,371.9L537.1,358.4M537.5,358.4L538.5,374.2M539.4,379.3L539.7,380.2M541.9,380.2L542.9,373.6M545.6,371.3L546.0,374.7M549.2,379.4L550.1,376.9M551.3,371.9L551.9,366.0M552.3,366.0L553.3,378.7M555.4,379.0L555.6,378.3M556.7,373.3L557.3,366.0M557.8,366.0L558.4,373.7M561.6,374.2L562.3,370.4M563.2,370.5L564.1,376.3M564.5,376.3L565.8,314.0M565.9,308.8L567.1,-11.2M567.2,-11.2L568.3,321.3M568.4,326.5L569.0,370.7M569.5,370.8L570.5,364.9M571.3,364.9L571.6,367.8M574.6,372.7L574.8,372.1M575.7,367.1L576.1,362.3M576.7,362.3L578.2,374.1M580.7,369.6L581.6,358.5M582.1,358.5L582.8,367.5M583.7,372.6L584.1,374.2M587.4,369.4L588.1,364.8M590.3,369.2L590.5,370.5M593.5,375.2L593.9,373.5M594.8,368.4L596.6,344.7M596.9,344.7L597.8,368.0M598.6,373.1L599.2,375.3M601.5,375.4L602.3,371.9M603.2,366.8L604.5,353.3M604.9,353.3L605.9,369.1M606.8,374.2L607.1,375.1M609.3,375.2L610.3,368.5M613.0,366.2L613.4,369.6M616.6,374.4L617.5,371.9M618.7,366.8L619.3,360.9M619.7,360.9L620.7,373.6M622.8,373.9L623.0,373.2M624.2,368.2L624.7,360.9M625.2,360.9L625.8,368.7M629.0,369.2L629.7,365.4M630.6,365.4L631.5,371.2M631.9,371.2L633.2,308.9M633.3,303.7L634.5,-14.6M634.6,-14.6L635.8,316.2M635.8,321.4L636.4,365.7M636.9,365.7L637.9,359.9M638.7,359.9L639.0,362.7M642.0,367.6L642.2,367.1M643.1,362.0L643.5,357.2M644.1,357.2L645.6,369.0M648.1,364.5L649.0,353.4M649.5,353.4L650.2,362.4M651.1,367.5L651.5,369.1M654.8,364.3L655.5,359.7M657.7,364.2L657.9,365.4M660.9,370.1L661.4,368.5M662.2,363.4L664.0,339.7M664.3,339.7L665.2,362.9M666.0,368.0L666.6,370.3M668.9,370.4L669.7,366.9M670.6,361.8L671.9,348.2M672.3,348.2L673.4,364.1M674.3,369.1L674.5,370.0M676.7,370.1L677.8,363.4M680.4,361.1L680.8,364.5M684.0,369.3L684.9,366.8M686.1,361.8L686.7,355.8M687.2,355.8L688.1,368.6M690.2,368.8L690.4,368.2M691.6,363.1L692.2,355.8M692.6,355.8L693.2,363.6M696.4,364.1L697.2,360.3M698.0,360.3L698.9,366.2M699.3,366.1L700.6,303.9M700.7,298.7L702.0,-18.6M702.0,-18.6L703.2,311.2M703.2,316.4L703.8,360.6M704.3,360.6L705.3,354.8M706.1,354.8L706.5,357.6M709.5,362.5L709.6,362.0M710.5,356.9L711.0,352.2M711.5,352.1L713.1,364.0M715.5,359.4L716.5,348.3M716.9,348.3L717.6,357.4M718.5,362.5L719.0,364.0M722.2,359.2L722.9,354.7M725.2,359.1L725.3,360.4M728.3,365.1L728.8,363.4M729.6,358.3L731.4,334.6M731.7,334.6L732.6,357.8M733.4,362.9L734.1,365.2M736.4,365.3L737.2,361.8M738.0,356.7L739.3,343.1M739.8,343.2L740.8,359.0M741.7,364.1L741.9,365.0M744.1,365.0L745.2,358.4M747.8,356.1L748.3,359.5M751.5,364.2L752.4,361.7M753.5,356.7L754.1,350.8M754.6,350.8L755.5,363.5M757.6,363.8L757.9,363.1M759.0,358.1L759.6,350.8M760.0,350.8L760.7,358.5M763.8,359.0L764.6,355.2M765.5,355.3L766.3,361.1M766.7,361.1L768.0,298.8M768.1,293.6L769.4,-22.5"/>
<g fill="#ff0000"><circle cx="96.8" cy="359.4" r="2.75"/><circle cx="97.2" cy="408.8" r="2.75"/><circle cx="99.0" cy="397.9" r="2.75"/><circle cx="100.0" cy="405.8" r="2.75"/><circle cx="101.0" cy="410.6" r="2.75"/><circle cx="102.0" cy="410.7" r="2.75"/><circle cx="103.5" cy="405.1" r="2.75"/><circle cx="104.5" cy="395.2" r="2.75"/><circle cx="106.7" cy="412.2" r="2.75"/><circle cx="107.7" cy="412.3" r="2.75"/><circle cx="108.5" cy="407.7" r="2.75"/><circle cx="110.0" cy="391.4" r="2.75"/><circle cx="111.0" cy="405.6" r="2.75"/><circle cx="113.0" cy="412.2" r="2.75"/><circle cx="114.0" cy="412.3" r="2.75"/><circle cx="115.0" cy="407.4" r="2.75"/><circle cx="116.5" cy="397.7" r="2.75"/><circle cx="118.2" cy="402.1" r="2.75"/><circle cx="118.8" cy="408.6" r="2.75"/><circle cx="120.0" cy="413.1" r="2.75"/><circle cx="121.0" cy="413.2" r="2.75"/><circle cx="122.7" cy="406.5" r="2.75"/><circle cx="124.8" cy="377.6" r="2.75"/><circle cx="126.0" cy="406.1" r="2.75"/><circle cx="128.1" cy="413.3" r="2.75"/><circle cx="129.1" cy="413.4" r="2.75"/><circle cx="131.0" cy="404.9" r="2.75"/><circle cx="132.8" cy="386.2" r="2.75"/><circle cx="134.2" cy="407.2" r="2.75"/><circle cx="135.9" cy="413.1" r="2.75"/><circle cx="136.9" cy="413.2" r="2.75"/><circle cx="138.8" cy="401.4" r="2.75"/><circle cx="140.8" cy="399.1" r="2.75"/><circle cx="141.8" cy="407.7" r="2.75"/><circle cx="142.8" cy="412.2" r="2.75"/><circle cx="143.8" cy="412.3" r="2.75"/><circle cx="146.5" cy="404.9" r="2.75"/><circle cx="147.7" cy="393.8" r="2.75"/><circle cx="148.9" cy="411.7" r="2.75"/><circle cx="149.9" cy="411.8" r="2.75"/><circle cx="152.1" cy="406.3" r="2.75"/><circle cx="153.1" cy="393.8" r="2.75"/><circle cx="154.2" cy="406.8" r="2.75"/><circle cx="155.1" cy="410.6" r="2.75"/><circle cx="156.1" cy="410.7" r="2.75"/><circle cx="156.6" cy="407.2" r="2.75"/><circle cx="158.3" cy="398.3" r="2.75"/><circle cx="159.9" cy="409.3" r="2.75"/><circle cx="161.3" cy="341.8" r="2.75"/><circle cx="163.9" cy="354.3" r="2.75"/><circle cx="164.6" cy="403.8" r="2.75"/><circle cx="166.5" cy="392.8" r="2.75"/><circle cx="167.5" cy="400.8" r="2.75"/><circle cx="168.5" cy="405.5" r="2.75"/><circle cx="169.5" cy="405.6" r="2.75"/><circle cx="171.0" cy="400.1" r="2.75"/><circle cx="171.9" cy="390.1" r="2.75"/><circle cx="174.1" cy="407.1" r="2.75"/><circle cx="175.1" cy="407.2" r="2.75"/><circle cx="176.0" cy="402.6" r="2.75"/><circle cx="177.4" cy="386.3" r="2.75"/><circle cx="178.5" cy="400.5" r="2.75"/><circle cx="180.4" cy="407.1" r="2.75"/><circle cx="181.4" cy="407.2" r="2.75"/><circle cx="182.5" cy="402.4" r="2.75"/><circle cx="184.0" cy="392.7" r="2.75"/><circle cx="185.6" cy="397.1" r="2.75"/><circle cx="186.3" cy="403.5" r="2.75"/><circle cx="187.4" cy="408.0" r="2.75"/><circle cx="188.4" cy="408.1" r="2.75"/><circle cx="190.1" cy="401.4" r="2.75"/><circle cx="192.3" cy="372.6" r="2.75"/><circle cx="193.4" cy="401.0" r="2.75"/><circle cx="195.5" cy="408.3" r="2.75"/><circle cx="196.5" cy="408.4" r="2.75"/><circle cx="198.4" cy="399.8" r="2.75"/><circle cx="200.3" cy="381.1" r="2.75"/><circle cx="201.6" cy="402.1" r="2.75"/><circle cx="203.4" cy="408.0" r="2.75"/><circle cx="204.4" cy="408.1" r="2.75"/><circle cx="206.3" cy="396.4" r="2.75"/><circle cx="208.2" cy="394.1" r="2.75"/><circle cx="209.3" cy="402.6" r="2.75"/><circle cx="210.3" cy="407.1" r="2.75"/><circle cx="211.3" cy="407.2" r="2.75"/><circle cx="213.9" cy="399.8" r="2.75"/><circle cx="215.1" cy="388.7" r="2.75"/><circle cx="216.4" cy="406.6" r="2.75"/><circle cx="217.4" cy="406.8" r="2.75"/><circle cx="219.5" cy="401.2" r="2.75"/><circle cx="220.5" cy="388.7" r="2.75"/><circle cx="221.6" cy="401.7" r="2.75"/><circle cx="222.5" cy="405.5" r="2.75"/><circle cx="223.5" cy="405.6" r="2.75"/><circle cx="224.0" cy="402.1" r="2.75"/><circle cx="225.8" cy="393.2" r="2.75"/><circle cx="227.4" cy="404.2" r="2.75"/><circle cx="228.8" cy="336.8" r="2.75"/><circle cx="231.3" cy="349.3" r="2.75"/><circle cx="232.0" cy="398.7" r="2.75"/><circle cx="233.9" cy="387.7" r="2.75"/><circle cx="234.9" cy="395.7" r="2.75"/><circle cx="235.9" cy="400.4" r="2.75"/><circle cx="236.9" cy="400.5" r="2.75"/><circle cx="238.4" cy="395.0" r="2.75"/><circle cx="239.3" cy="385.1" r="2.75"/><circle cx="241.5" cy="402.0" r="2.75"/><circle cx="242.5" cy="402.2" r="2.75"/><circle cx="243.4" cy="397.5" r="2.75"/><circle cx="244.8" cy="381.2" r="2.75"/><circle cx="245.9" cy="395.5" r="2.75"/><circle cx="247.8" cy="402.0" r="2.75"/><circle cx="248.8" cy="402.2" r="2.75"/><circle cx="249.9" cy="397.3" r="2.75"/><circle cx="251.4" cy="387.6" r="2.75"/><circle cx="253.0" cy="392.0" r="2.75"/><circle cx="253.7" cy="398.5" r="2.75"/><circle cx="254.8" cy="403.0" r="2.75"/><circle cx="255.8" cy="403.1" r="2.75"/><circle cx="257.5" cy="396.4" r="2.75"/><circle cx="259.7" cy="367.5" r="2.75"/><circle cx="260.8" cy="395.9" r="2.75"/><circle cx="262.9" cy="403.2" r="2.75"/><circle cx="263.9" cy="403.3" r="2.75"/><circle cx="265.8" cy="394.8" r="2.75"/><circle cx="267.7" cy="376.1" r="2.75"/><circle cx="269.0" cy="397.1" r="2.75"/><circle cx="270.8" cy="403.0" r="2.75"/><circle cx="271.8" cy="403.1" r="2.75"/><circle cx="273.7" cy="391.3" r="2.75"/><circle cx="275.6" cy="389.0" r="2.75"/><circle cx="276.7" cy="397.5" r="2.75"/><circle cx="277.7" cy="402.0" r="2.75"/><circle cx="278.7" cy="402.2" r="2.75"/><circle cx="281.3" cy="394.8" r="2.75"/><circle cx="282.5" cy="383.7" r="2.75"/><circle cx="283.8" cy="401.6" r="2.75"/><circle cx="284.8" cy="401.7" r="2.75"/><circle cx="286.9" cy="396.1" r="2.75"/><circle cx="287.9" cy="383.7" r="2.75"/><circle cx="289.0" cy="396.6" r="2.75"/><circle cx="289.9" cy="400.4" r="2.75"/><circle cx="290.9" cy="400.5" r="2.75"/><circle cx="291.4" cy="397.1" r="2.75"/><circle cx="293.2" cy="388.2" r="2.75"/><circle cx="294.8" cy="399.2" r="2.75"/><circle cx="296.2" cy="331.7" r="2.75"/><circle cx="298.7" cy="344.2" r="2.75"/><circle cx="299.4" cy="393.6" r="2.75"/><circle cx="301.3" cy="382.6" r="2.75"/><circle cx="302.3" cy="390.6" r="2.75"/><circle cx="303.3" cy="395.4" r="2.75"/><circle cx="304.3" cy="395.5" r="2.75"/><circle cx="305.8" cy="389.9" r="2.75"/><circle cx="306.7" cy="380.0" r="2.75"/><circle cx="308.9" cy="397.0" r="2.75"/><circle cx="309.9" cy="397.1" r="2.75"/><circle cx="310.8" cy="392.5" r="2.75"/><circle cx="312.2" cy="376.2" r="2.75"/><circle cx="313.3" cy="390.4" r="2.75"/><circle cx="315.2" cy="397.0" r="2.75"/><circle cx="316.2" cy="397.1" r="2.75"/><circle cx="317.3" cy="392.2" r="2.75"/><circle cx="318.8" cy="382.5" r="2.75"/><circle cx="320.4" cy="386.9" r="2.75"/><circle cx="321.1" cy="393.4" r="2.75"/><circle cx="322.2" cy="397.9" r="2.75"/><circle cx="323.2" cy="398.0" r="2.75"/><circle cx="324.9" cy="391.3" r="2.75"/><circle cx="327.1" cy="362.4" r="2.75"/><circle cx="328.2" cy="390.8" r="2.75"/><circle cx="330.3" cy="398.1" r="2.75"/><circle cx="331.3" cy="398.2" r="2.75"/><circle cx="333.2" cy="389.7" r="2.75"/><circle cx="335.1" cy="371.0" r="2.75"/><circle cx="336.4" cy="392.0" r="2.75"/><circle cx="338.2" cy="397.9" r="2.75"/><circle cx="339.2" cy="398.0" r="2.75"/><circle cx="341.1" cy="386.2" r="2.75"/><circle cx="343.0" cy="383.9" r="2.75"/><circle cx="344.1" cy="392.5" r="2.75"/><circle cx="345.1" cy="397.0" r="2.75"/><circle cx="346.1" cy="397.1" r="2.75"/><circle cx="348.7" cy="389.7" r="2.75"/><circle cx="349.9" cy="378.6" r="2.75"/><circle cx="351.2" cy="396.5" r="2.75"/><circle cx="352.2" cy="396.6" r="2.75"/><circle cx="354.3" cy="391.1" r="2.75"/><circle cx="355.3" cy="378.6" r="2.75"/><circle cx="356.4" cy="391.5" r="2.75"/><circle cx="357.3" cy="395.4" r="2.75"/><circle cx="358.3" cy="395.5" r="2.75"/><circle cx="358.8" cy="392.0" r="2.75"/><circle cx="360.6" cy="383.1" r="2.75"/><circle cx="362.2" cy="394.1" r="2.75"/><circle cx="363.6" cy="326.6" r="2.75"/><circle cx="366.1" cy="339.1" r="2.75"/><circle cx="366.8" cy="388.5" r="2.75"/><circle cx="368.7" cy="377.6" r="2.75"/><circle cx="369.7" cy="385.5" r="2.75"/><circle cx="370.7" cy="390.3" r="2.75"/><circle cx="371.7" cy="390.4" r="2.75"/><circle cx="373.2" cy="384.9" r="2.75"/><circle cx="374.1" cy="374.9" r="2.75"/><circle cx="376.3" cy="391.9" r="2.75"/><circle cx="377.3" cy="392.0" r="2.75"/><circle cx="378.2" cy="387.4" r="2.75"/><circle cx="379.6" cy="371.1" r="2.75"/><circle cx="380.7" cy="385.3" r="2.75"/><circle cx="382.6" cy="391.9" r="2.75"/><circle cx="383.6" cy="392.0" r="2.75"/><circle cx="384.7" cy="387.2" r="2.75"/><circle cx="386.2" cy="377.5" r="2.75"/><circle cx="387.8" cy="381.8" r="2.75"/><circle cx="388.5" cy="388.3" r="2.75"/><circle cx="389.6" cy="392.8" r="2.75"/><circle cx="390.6" cy="392.9" r="2.75"/><circle cx="392.4" cy="386.2" r="2.75"/><circle cx="394.5" cy="357.4" r="2.75"/><circle cx="395.6" cy="385.8" r="2.75"/><circle cx="397.7" cy="393.1" r="2.75"/><circle cx="398.7" cy="393.2" r="2.75"/><circle cx="400.7" cy="384.6" r="2.75"/><circle cx="402.5" cy="365.9" r="2.75"/><circle cx="403.9" cy="386.9" r="2.75"/><circle cx="405.6" cy="392.8" r="2.75"/><circle cx="406.6" cy="392.9" r="2.75"/><circle cx="408.5" cy="381.2" r="2.75"/><circle cx="410.4" cy="378.8" r="2.75"/><circle cx="411.5" cy="387.4" r="2.75"/><circle cx="412.5" cy="391.9" r="2.75"/><circle cx="413.5" cy="392.0" r="2.75"/><circle cx="416.2" cy="384.6" r="2.75"/><circle cx="417.3" cy="373.5" r="2.75"/><circle cx="418.6" cy="391.4" r="2.75"/><circle cx="419.6" cy="391.6" r="2.75"/><circle cx="421.7" cy="386.0" r="2.75"/><circle cx="422.7" cy="373.5" r="2.75"/><circle cx="423.8" cy="386.5" r="2.75"/><circle cx="424.7" cy="390.3" r="2.75"/><circle cx="425.7" cy="390.4" r="2.75"/><circle cx="426.2" cy="386.9" r="2.75"/><circle cx="428.0" cy="378.0" r="2.75"/><circle cx="429.6" cy="389.0" r="2.75"/><circle cx="431.0" cy="321.6" r="2.75"/><circle cx="433.5" cy="334.0" r="2.75"/><circle cx="434.2" cy="383.5" r="2.75"/><circle cx="436.1" cy="372.5" r="2.75"/><circle cx="437.1" cy="380.5" r="2.75"/><circle cx="438.1" cy="385.2" r="2.75"/><circle cx="439.1" cy="385.3" r="2.75"/><circle cx="440.6" cy="379.8" r="2.75"/><circle cx="441.5" cy="369.8" r="2.75"/><circle cx="443.7" cy="386.8" r="2.75"/><circle cx="444.7" cy="386.9" r="2.75"/><circle cx="445.6" cy="382.3" r="2.75"/><circle cx="447.0" cy="366.0" r="2.75"/><circle cx="448.1" cy="380.2" r="2.75"/><circle cx="450.0" cy="386.8" r="2.75"/><circle cx="451.0" cy="386.9" r="2.75"/><circle cx="452.1" cy="382.1" r="2.75"/><circle cx="453.6" cy="372.4" r="2.75"/><circle cx="455.2" cy="376.8" r="2.75"/><circle cx="455.9" cy="383.2" r="2.75"/><circle cx="457.0" cy="387.8" r="2.75"/><circle cx="458.0" cy="387.9" r="2.75"/><circle cx="459.8" cy="381.2" r="2.75"/><circle cx="461.9" cy="352.3" r="2.75"/><circle cx="463.0" cy="380.7" r="2.75"/><circle cx="465.1" cy="388.0" r="2.75"/><circle cx="466.1" cy="388.1" r="2.75"/><circle cx="468.1" cy="379.5" r="2.75"/><circle cx="469.9" cy="360.8" r="2.75"/><circle cx="471.3" cy="381.9" r="2.75"/><circle cx="473.0" cy="387.8" r="2.75"/><circle cx="474.0" cy="387.9" r="2.75"/><circle cx="475.9" cy="376.1" r="2.75"/><circle cx="477.8" cy="373.8" r="2.75"/><circle cx="478.9" cy="382.3" r="2.75"/><circle cx="479.9" cy="386.8" r="2.75"/><circle cx="480.9" cy="386.9" r="2.75"/><circle cx="483.6" cy="379.5" r="2.75"/><circle cx="484.7" cy="368.5" r="2.75"/><circle cx="486.0" cy="386.4" r="2.75"/><circle cx="487.0" cy="386.5" r="2.75"/><circle cx="489.1" cy="380.9" r="2.75"/><circle cx="490.1" cy="368.5" r="2.75"/><circle cx="491.2" cy="381.4" r="2.75"/><circle cx="492.1" cy="385.2" r="2.75"/><circle cx="493.1" cy="385.3" r="2.75"/><circle cx="493.6" cy="381.9" r="2.75"/><circle cx="495.4" cy="373.0" r="2.75"/><circle cx="497.0" cy="383.9" r="2.75"/><circle cx="498.4" cy="316.5" r="2.75"/><circle cx="500.9" cy="329.0" r="2.75"/><circle cx="501.6" cy="378.4" r="2.75"/><circle cx="503.5" cy="367.4" r="2.75"/><circle cx="504.5" cy="375.4" r="2.75"/><circle cx="505.5" cy="380.1" r="2.75"/><circle cx="506.5" cy="380.3" r="2.75"/><circle cx="508.0" cy="374.7" r="2.75"/><circle cx="508.9" cy="364.8" r="2.75"/><circle cx="511.1" cy="381.8" r="2.75"/><circle cx="512.1" cy="381.9" r="2.75"/><circle cx="513.0" cy="377.3" r="2.75"/><circle cx="514.4" cy="361.0" r="2.75"/><circle cx="515.5" cy="375.2" r="2.75"/><circle cx="517.4" cy="381.8" r="2.75"/><circle cx="518.4" cy="381.9" r="2.75"/><circle cx="519.5" cy="377.0" r="2.75"/><circle cx="521.0" cy="367.3" r="2.75"/><circle cx="522.6" cy="371.7" r="2.75"/><circle cx="523.3" cy="378.2" r="2.75"/><circle cx="524.4" cy="382.7" r="2.75"/><circle cx="525.4" cy="382.8" r="2.75"/><circle cx="527.2" cy="376.1" r="2.75"/><circle cx="529.3" cy="347.2" r="2.75"/><circle cx="530.4" cy="375.6" r="2.75"/><circle cx="532.5" cy="382.9" r="2.75"/><circle cx="533.5" cy="383.0" r="2.75"/><circle cx="535.5" cy="374.5" r="2.75"/><circle cx="537.3" cy="355.8" r="2.75"/><circle cx="538.7" cy="376.8" r="2.75"/><circle cx="540.4" cy="382.7" r="2.75"/><circle cx="541.4" cy="382.8" r="2.75"/><circle cx="543.3" cy="371.0" r="2.75"/><circle cx="545.2" cy="368.7" r="2.75"/><circle cx="546.3" cy="377.3" r="2.75"/><circle cx="547.3" cy="381.8" r="2.75"/><circle cx="548.3" cy="381.9" r="2.75"/><circle cx="551.0" cy="374.5" r="2.75"/><circle cx="552.1" cy="363.4" r="2.75"/><circle cx="553.4" cy="381.3" r="2.75"/><circle cx="554.4" cy="381.4" r="2.75"/><circle cx="556.5" cy="375.9" r="2.75"/><circle cx="557.5" cy="363.4" r="2.75"/><circle cx="558.6" cy="376.3" r="2.75"/><circle cx="559.5" cy="380.1" r="2.75"/><circle cx="560.5" cy="380.3" r="2.75"/><circle cx="561.0" cy="376.8" r="2.75"/><circle cx="562.8" cy="367.9" r="2.75"/><circle cx="564.4" cy="378.9" r="2.75"/><circle cx="565.8" cy="311.4" r="2.75"/><circle cx="568.4" cy="323.9" r="2.75"/><circle cx="569.1" cy="373.3" r="2.75"/><circle cx="571.0" cy="362.4" r="2.75"/><circle cx="572.0" cy="370.3" r="2.75"/><circle cx="573.0" cy="375.1" r="2.75"/><circle cx="574.0" cy="375.2" r="2.75"/><circle cx="575.5" cy="369.6" r="2.75"/><circle cx="576.4" cy="359.7" r="2.75"/><circle cx="578.6" cy="376.7" r="2.75"/><circle cx="579.6" cy="376.8" r="2.75"/><circle cx="580.5" cy="372.2" r="2.75"/><circle cx="581.9" cy="355.9" r="2.75"/><circle cx="583.0" cy="370.1" r="2.75"/><circle cx="584.9" cy="376.7" r="2.75"/><circle cx="585.9" cy="376.8" r="2.75"/><circle cx="587.0" cy="371.9" r="2.75"/><circle cx="588.5" cy="362.2" r="2.75"/><circle cx="590.1" cy="366.6" r="2.75"/><circle cx="590.8" cy="373.1" r="2.75"/><circle cx="591.9" cy="377.6" r="2.75"/><circle cx="592.9" cy="377.7" r="2.75"/><circle cx="594.6" cy="371.0" r="2.75"/><circle cx="596.8" cy="342.2" r="2.75"/><circle cx="597.9" cy="370.6" r="2.75"/><circle cx="600.0" cy="377.8" r="2.75"/><circle cx="601.0" cy="378.0" r="2.75"/><circle cx="602.9" cy="369.4" r="2.75"/><circle cx="604.8" cy="350.7" r="2.75"/><circle cx="606.1" cy="371.7" r="2.75"/><circle cx="607.9" cy="377.6" r="2.75"/><circle cx="608.9" cy="377.7" r="2.75"/><circle cx="610.8" cy="365.9" r="2.75"/><circle cx="612.7" cy="363.6" r="2.75"/><circle cx="613.8" cy="372.2" r="2.75"/><circle cx="614.8" cy="376.7" r="2.75"/><circle cx="615.8" cy="376.8" r="2.75"/><circle cx="618.4" cy="369.4" r="2.75"/><circle cx="619.6" cy="358.3" r="2.75"/><circle cx="620.9" cy="376.2" r="2.75"/><circle cx="621.9" cy="376.3" r="2.75"/><circle cx="624.0" cy="370.8" r="2.75"/><circle cx="625.0" cy="358.3" r="2.75"/><circle cx="626.1" cy="371.3" r="2.75"/><circle cx="627.0" cy="375.1" r="2.75"/><circle cx="628.0" cy="375.2" r="2.75"/><circle cx="628.5" cy="371.7" r="2.75"/><circle cx="630.3" cy="362.8" r="2.75"/><circle cx="631.9" cy="373.8" r="2.75"/><circle cx="633.3" cy="306.3" r="2.75"/><circle cx="635.8" cy="318.8" r="2.75"/><circle cx="636.5" cy="368.3" r="2.75"/><circle cx="638.4" cy="357.3" r="2.75"/><circle cx="639.4" cy="365.3" r="2.75"/><circle cx="640.4" cy="370.0" r="2.75"/><circle cx="641.4" cy="370.1" r="2.75"/><circle cx="642.9" cy="364.6" r="2.75"/><circle cx="643.8" cy="354.6" r="2.75"/><circle cx="646.0" cy="371.6" r="2.75"/><circle cx="647.0" cy="371.7" r="2.75"/><circle cx="647.9" cy="367.1" r="2.75"/><circle cx="649.3" cy="350.8" r="2.75"/><circle cx="650.4" cy="365.0" r="2.75"/><circle cx="652.3" cy="371.6" r="2.75"/><circle cx="653.3" cy="371.7" r="2.75"/><circle cx="654.4" cy="366.9" r="2.75"/><circle cx="655.9" cy="357.2" r="2.75"/><circle cx="657.5" cy="361.6" r="2.75"/><circle cx="658.2" cy="368.0" r="2.75"/><circle cx="659.3" cy="372.5" r="2.75"/><circle cx="660.3" cy="372.7" r="2.75"/><circle cx="662.0" cy="366.0" r="2.75"/><circle cx="664.2" cy="337.1" r="2.75"/><circle cx="665.3" cy="365.5" r="2.75"/><circle cx="667.4" cy="372.8" r="2.75"/><circle cx="668.4" cy="372.9" r="2.75"/><circle cx="670.3" cy="364.3" r="2.75"/><circle cx="672.2" cy="345.6" r="2.75"/><circle cx="673.5" cy="366.6" r="2.75"/><circle cx="675.3" cy="372.5" r="2.75"/><circle cx="676.3" cy="372.7" r="2.75"/><circle cx="678.2" cy="360.9" r="2.75"/><circle cx="680.1" cy="358.6" r="2.75"/><circle cx="681.2" cy="367.1" r="2.75"/><circle cx="682.2" cy="371.6" r="2.75"/><circle cx="683.2" cy="371.7" r="2.75"/><circle cx="685.8" cy="364.3" r="2.75"/><circle cx="687.0" cy="353.3" r="2.75"/><circle cx="688.3" cy="371.2" r="2.75"/><circle cx="689.3" cy="371.3" r="2.75"/><circle cx="691.4" cy="365.7" r="2.75"/><circle cx="692.4" cy="353.3" r="2.75"/><circle cx="693.5" cy="366.2" r="2.75"/><circle cx="694.4" cy="370.0" r="2.75"/><circle cx="695.4" cy="370.1" r="2.75"/><circle cx="695.9" cy="366.6" r="2.75"/><circle cx="697.7" cy="357.8" r="2.75"/><circle cx="699.3" cy="368.7" r="2.75"/><circle cx="700.7" cy="301.3" r="2.75"/><circle cx="703.2" cy="313.8" r="2.75"/><circle cx="703.9" cy="363.2" r="2.75"/><circle cx="705.8" cy="352.2" r="2.75"/><circle cx="706.8" cy="360.2" r="2.75"/><circle cx="707.8" cy="364.9" r="2.75"/><circle cx="708.8" cy="365.0" r="2.75"/><circle cx="710.3" cy="359.5" r="2.75"/><circle cx="711.2" cy="349.6" r="2.75"/><circle cx="713.4" cy="366.5" r="2.75"/><circle cx="714.4" cy="366.7" r="2.75"/><circle cx="715.3" cy="362.0" r="2.75"/><circle cx="716.7" cy="345.8" r="2.75"/><circle cx="717.8" cy="360.0" r="2.75"/><circle cx="719.7" cy="366.5" r="2.75"/><circle cx="720.7" cy="366.7" r="2.75"/><circle cx="721.8" cy="361.8" r="2.75"/><circle cx="723.3" cy="352.1" r="2.75"/><circle cx="724.9" cy="356.5" r="2.75"/><circle cx="725.6" cy="363.0" r="2.75"/><circle cx="726.7" cy="367.5" r="2.75"/><circle cx="727.7" cy="367.6" r="2.75"/><circle cx="729.4" cy="360.9" r="2.75"/><circle cx="731.6" cy="332.0" r="2.75"/><circle cx="732.7" cy="360.4" r="2.75"/><circle cx="734.8" cy="367.7" r="2.75"/><circle cx="735.8" cy="367.8" r="2.75"/><circle cx="737.7" cy="359.3" r="2.75"/><circle cx="739.6" cy="340.6" r="2.75"/><circle cx="740.9" cy="361.6" r="2.75"/><circle cx="742.7" cy="367.5" r="2.75"/><circle cx="743.7" cy="367.6" r="2.75"/><circle cx="745.6" cy="355.8" r="2.75"/><circle cx="747.5" cy="353.5" r="2.75"/><circle cx="748.6" cy="362.0" r="2.75"/><circle cx="749.6" cy="366.5" r="2.75"/><circle cx="750.6" cy="366.7" r="2.75"/><circle cx="753.2" cy="359.3" r="2.75"/><circle cx="754.4" cy="348.2" r="2.75"/><circle cx="755.7" cy="366.1" r="2.75"/><circle cx="756.7" cy="366.2" r="2.75"/><circle cx="758.8" cy="360.7" r="2.75"/><circle cx="759.8" cy="348.2" r="2.75"/><circle cx="760.9" cy="361.1" r="2.75"/><circle cx="761.8" cy="364.9" r="2.75"/><circle cx="762.8" cy="365.0" r="2.75"/><circle cx="763.3" cy="361.6" r="2.75"/><circle cx="765.1" cy="352.7" r="2.75"/><circle cx="766.7" cy="363.7" r="2.75"/><circle cx="768.1" cy="296.2" r="2.75"/></g>
</g>
<g clip-path="url(#cu)">
<path fill="none" stroke="#ff0000" stroke-width="0.85" d="M96.8,918.9L97.1,1012.6M97.4,1012.6L98.8,995.8M99.2,995.8L99.9,1006.6M100.3,1011.8L100.8,1016.1M102.4,1016.3L103.2,1010.4M103.7,1005.2L104.3,990.5M104.6,990.5L106.5,1019.3M107.9,1019.5L108.3,1015.5M108.7,1010.3L109.8,982.9M110.1,982.9L110.9,1006.1M111.4,1011.3L112.6,1019.3M114.2,1019.5L114.8,1015.0M115.3,1009.8L116.3,995.6M117.0,995.6L117.7,999.2M118.3,1004.4L118.7,1012.1M119.2,1017.3L119.6,1021.2M121.3,1021.4L122.4,1013.1M122.8,1008.0L124.8,955.4M124.9,955.4L125.9,1007.0M126.3,1012.2L127.7,1021.6M129.3,1021.9L130.7,1009.9M131.1,1004.7L132.7,972.5M132.9,972.5L134.1,1009.4M134.6,1014.5L135.6,1021.2M137.2,1021.4L138.6,1003.0M140.9,998.4L141.7,1010.3M142.1,1015.5L142.6,1019.3M144.3,1019.6L146.0,1009.9M146.6,1004.7L147.5,987.7M147.7,987.7L148.9,1018.4M150.4,1018.6L151.6,1012.7M152.2,1007.5L152.9,987.7M153.2,987.7L154.0,1008.4M154.5,1013.6L154.7,1016.1M156.2,1016.3L156.4,1014.5M156.8,1009.4L158.1,996.7M158.5,996.8L159.8,1013.5M160.0,1013.5L161.3,883.8M161.4,878.6L162.7,190.6M162.7,190.6L163.9,903.5M163.9,908.7L164.5,1002.4M164.8,1002.5L166.2,985.7M166.6,985.7L167.3,996.4M167.7,1001.6L168.2,1005.9M169.8,1006.2L170.6,1000.2M171.1,995.1L171.7,980.4M172.0,980.4L173.9,1009.2M175.3,1009.4L175.7,1005.3M176.1,1000.1L177.3,972.7M177.5,972.7L178.4,996.0M178.8,1001.1L180.0,1009.2M181.7,1009.4L182.2,1004.9M182.7,999.7L183.8,985.5M184.4,985.4L185.1,989.1M185.7,994.2L186.1,1002.0M186.6,1007.2L187.1,1011.0M188.7,1011.2L189.8,1003.0M190.2,997.8L192.2,945.2M192.3,945.2L193.3,996.9M193.7,1002.1L195.1,1011.5M196.8,1011.7L198.1,999.8M198.5,994.6L200.1,962.3M200.3,962.3L201.5,999.2M202.0,1004.4L203.0,1011.0M204.6,1011.2L206.1,992.8M208.3,988.2L209.1,1000.1M209.6,1005.3L210.0,1009.2M211.7,1009.4L213.5,999.7M214.0,994.6L214.9,977.6M215.2,977.6L216.3,1008.2M217.8,1008.5L219.0,1002.5M219.6,997.4L220.4,977.6M220.6,977.6L221.5,998.3M221.9,1003.5L222.2,1005.9M223.7,1006.1L223.8,1004.4M224.2,999.2L225.5,986.6M226.0,986.6L227.2,1003.4M227.4,1003.4L228.7,873.6M228.8,868.4L230.1,194.3M230.1,194.3L231.3,893.4M231.3,898.6L232.0,992.3M232.2,992.3L233.7,975.5M234.0,975.5L234.7,986.3M235.2,991.5L235.6,995.8M237.2,996.0L238.0,990.1M238.5,984.9L239.2,970.2M239.4,970.2L241.3,999.0M242.7,999.2L243.1,995.2M243.5,990.0L244.7,962.6M244.9,962.6L245.8,985.8M246.3,991.0L247.4,999.0M249.1,999.2L249.6,994.7M250.1,989.5L251.2,975.3M251.8,975.3L252.5,978.9M253.1,984.1L253.5,991.8M254.0,997.0L254.5,1000.9M256.1,1001.1L257.2,992.9M257.6,987.7L259.6,935.1M259.7,935.1L260.7,986.8M261.2,991.9L262.5,1001.3M264.2,1001.6L265.5,989.6M266.0,984.4L267.6,952.2M267.8,952.2L268.9,989.1M269.4,994.2L270.4,1000.9M272.0,1001.1L273.5,982.7M275.7,978.1L276.5,990.0M277.0,995.2L277.4,999.0M279.1,999.3L280.9,989.6M281.5,984.4L282.3,967.5M282.6,967.5L283.7,998.1M285.3,998.4L286.4,992.4M287.0,987.2L287.8,967.5M288.0,967.5L288.9,988.1M289.3,993.3L289.6,995.8M291.1,996.0L291.2,994.3M291.6,989.1L292.9,976.5M293.4,976.5L294.6,993.2M294.8,993.2L296.2,863.5M296.2,858.3L297.5,192.4M297.5,192.4L298.7,883.2M298.7,888.4L299.4,982.2M299.6,982.2L301.1,965.4M301.5,965.4L302.1,976.2M302.6,981.3L303.0,985.6M304.6,985.9L305.4,979.9M305.9,974.8L306.6,960.1M306.9,960.1L308.7,988.9M310.1,989.1L310.5,985.0M310.9,979.8L312.1,952.5M312.3,952.5L313.2,975.7M313.7,980.9L314.8,988.9M316.5,989.1L317.0,984.6M317.5,979.4L318.6,965.2M319.3,965.1L319.9,968.8M320.5,973.9L321.0,981.7M321.4,986.9L321.9,990.7M323.5,991.0L324.6,982.7M325.0,977.5L327.0,925.0M327.1,925.0L328.1,976.6M328.6,981.8L329.9,991.2M331.6,991.4L333.0,979.5M333.4,974.3L335.0,942.1M335.2,942.1L336.4,978.9M336.8,984.1L337.8,990.7M339.4,990.9L340.9,972.6M343.2,967.9L343.9,979.8M344.4,985.0L344.8,988.9M346.6,989.1L348.3,979.5M348.9,974.3L349.8,957.3M350.0,957.3L351.1,987.9M352.7,988.2L353.8,982.2M354.4,977.1L355.2,957.3M355.4,957.3L356.3,978.0M356.7,983.2L357.0,985.6M358.5,985.9L358.6,984.1M359.1,978.9L360.3,966.3M360.8,966.3L362.0,983.1M362.2,983.1L363.6,853.3M363.6,848.1L364.9,187.8M364.9,187.8L366.1,873.1M366.1,878.3L366.8,972.0M367.0,972.0L368.5,955.2M368.9,955.2L369.5,966.0M370.0,971.2L370.4,975.5M372.1,975.7L372.9,969.8M373.3,964.6L374.0,949.9M374.3,949.9L376.1,978.7M377.6,979.0L378.0,974.9M378.3,969.7L379.5,942.3M379.7,942.3L380.6,965.5M381.1,970.7L382.2,978.7M383.9,979.0L384.4,974.4M384.9,969.2L386.0,955.0M386.7,955.0L387.3,958.6M388.0,963.8L388.4,971.6M388.8,976.7L389.3,980.6M390.9,980.8L392.0,972.6M392.5,967.4L394.4,914.8M394.6,914.8L395.6,966.5M396.0,971.6L397.3,981.0M399.0,981.3L400.4,969.3M400.8,964.2L402.4,931.9M402.6,931.9L403.8,968.8M404.2,973.9L405.2,980.6M406.8,980.8L408.3,962.4M410.6,957.8L411.3,969.7M411.8,974.9L412.2,978.7M414.0,979.0L415.7,969.3M416.3,964.2L417.2,947.2M417.4,947.2L418.5,977.8M420.1,978.1L421.2,972.1M421.8,966.9L422.6,947.2M422.8,947.2L423.7,967.9M424.1,973.0L424.4,975.5M425.9,975.7L426.0,974.0M426.5,968.8L427.7,956.2M428.2,956.2L429.4,972.9M429.6,972.9L431.0,843.2M431.0,838.0L432.3,182.3M432.3,182.3L433.5,863.0M433.5,868.2L434.2,961.9M434.4,961.9L435.9,945.1M436.3,945.1L437.0,955.9M437.4,961.0L437.9,965.3M439.5,965.6L440.3,959.6M440.7,954.5L441.4,939.8M441.7,939.8L443.6,968.6M445.0,968.8L445.4,964.7M445.7,959.6L446.9,932.2M447.1,932.2L448.0,955.4M448.5,960.6L449.7,968.6M451.3,968.8L451.8,964.3M452.3,959.1L453.4,944.9M454.1,944.8L454.8,948.5M455.4,953.7L455.8,961.4M456.2,966.6L456.7,970.4M458.4,970.7L459.4,962.4M459.9,957.2L461.8,904.7M462.0,904.7L463.0,956.3M463.4,961.5L464.8,970.9M466.4,971.1L467.8,959.2M468.2,954.0L469.8,921.8M470.0,921.8L471.2,958.6M471.7,963.8L472.6,970.4M474.2,970.7L475.7,952.3M478.0,947.6L478.8,959.6M479.2,964.7L479.6,968.6M481.4,968.8L483.1,959.2M483.7,954.0L484.6,937.0M484.8,937.0L485.9,967.6M487.5,967.9L488.6,961.9M489.2,956.8L490.0,937.0M490.2,937.0L491.1,957.7M491.5,962.9L491.8,965.3M493.3,965.6L493.4,963.8M493.9,958.6L495.2,946.0M495.6,946.0L496.8,962.8M497.1,962.8L498.4,833.0M498.4,827.8L499.7,176.3M499.7,176.3L500.9,852.8M501.0,858.0L501.6,951.7M501.9,951.7L503.3,935.0M503.7,935.0L504.4,945.7M504.8,950.9L505.3,955.2M506.9,955.4L507.7,949.5M508.2,944.3L508.8,929.6M509.1,929.6L511.0,958.4M512.4,958.7L512.8,954.6M513.2,949.4L514.3,922.0M514.5,922.0L515.4,945.2M515.9,950.4L517.1,958.4M518.7,958.7L519.2,954.1M519.7,949.0L520.8,934.7M521.5,934.7L522.2,938.4M522.8,943.5L523.2,951.3M523.7,956.4L524.1,960.3M525.8,960.5L526.9,952.3M527.3,947.1L529.2,894.5M529.4,894.5L530.4,946.2M530.8,951.3L532.2,960.8M533.8,961.0L535.2,949.0M535.6,943.9L537.2,911.6M537.4,911.6L538.6,948.5M539.1,953.7L540.1,960.3M541.6,960.5L543.1,942.1M545.4,937.5L546.2,949.4M546.6,954.6L547.1,958.4M548.8,958.7L550.5,949.0M551.1,943.9L552.0,926.9M552.2,926.9L553.3,957.5M554.9,957.8L556.1,951.8M556.6,946.6L557.4,926.9M557.7,926.9L558.5,947.6M558.9,952.7L559.2,955.2M560.7,955.4L560.9,953.7M561.3,948.5L562.6,935.9M563.0,935.9L564.3,952.6M564.5,952.6L565.8,822.9M565.8,817.7L567.1,169.3M567.2,169.3L568.4,842.7M568.4,847.9L569.0,941.6M569.3,941.6L570.7,924.8M571.1,924.8L571.8,935.6M572.2,940.7L572.7,945.1M574.3,945.3L575.1,939.4M575.6,934.2L576.2,919.5M576.5,919.5L578.4,948.3M579.8,948.5L580.2,944.4M580.6,939.3L581.7,911.9M582.0,911.9L582.9,935.1M583.3,940.3L584.5,948.3M586.1,948.5L586.7,944.0M587.2,938.8L588.3,924.6M588.9,924.5L589.6,928.2M590.2,933.4L590.6,941.1M591.1,946.3L591.5,950.1M593.2,950.4L594.3,942.1M594.7,937.0L596.7,884.4M596.8,884.4L597.8,936.0M598.2,941.2L599.6,950.6M601.2,950.8L602.6,938.9M603.0,933.7L604.6,901.5M604.8,901.5L606.0,938.3M606.5,943.5L607.5,950.2M609.1,950.4L610.5,932.0M612.8,927.4L613.6,939.3M614.0,944.4L614.5,948.3M616.2,948.5L617.9,938.9M618.5,933.7L619.4,916.7M619.6,916.7L620.8,947.4M622.3,947.6L623.5,941.6M624.1,936.5L624.9,916.7M625.1,916.7L625.9,937.4M626.4,942.6L626.7,945.1M628.1,945.3L628.3,943.5M628.7,938.4L630.0,925.7M630.4,925.7L631.7,942.5M631.9,942.5L633.2,812.7M633.3,807.5L634.6,162.4M634.6,162.4L635.8,832.5M635.8,837.7L636.5,931.4M636.7,931.4L638.1,914.7M638.5,914.7L639.2,925.4M639.6,930.6L640.1,934.9M641.7,935.1L642.5,929.2M643.0,924.0L643.7,909.4M643.9,909.4L645.8,938.1M647.2,938.4L647.6,934.3M648.0,929.1L649.2,901.7M649.4,901.7L650.3,925.0M650.7,930.1L651.9,938.2M653.6,938.4L654.1,933.8M654.6,928.7L655.7,914.4M656.3,914.4L657.0,918.1M657.6,923.2L658.0,931.0M658.5,936.1L659.0,940.0M660.6,940.2L661.7,932.0M662.1,926.8L664.1,874.2M664.2,874.2L665.2,925.9M665.6,931.1L667.0,940.5M668.7,940.7L670.0,928.8M670.4,923.6L672.0,891.3M672.3,891.3L673.4,928.2M673.9,933.4L674.9,940.0M676.5,940.2L678.0,921.8M680.2,917.2L681.0,929.1M681.5,934.3L681.9,938.1M683.6,938.4L685.4,928.7M686.0,923.6L686.8,906.6M687.1,906.6L688.2,937.2M689.8,937.5L690.9,931.5M691.5,926.3L692.3,906.6M692.5,906.6L693.4,927.3M693.8,932.4L694.1,934.9M695.6,935.1L695.7,933.4M696.1,928.2L697.4,915.6M697.9,915.6L699.1,932.4M699.3,932.4L700.6,802.6M700.7,797.4L702.0,154.5M702.0,154.5L703.2,822.4M703.2,827.6L703.9,921.3M704.1,921.3L705.6,904.5M705.9,904.5L706.6,915.3M707.1,920.5L707.5,924.8M709.1,925.0L709.9,919.1M710.4,913.9L711.1,899.2M711.4,899.2L713.2,928.0M714.6,928.2L715.0,924.2M715.4,919.0L716.6,891.6M716.8,891.6L717.7,914.8M718.2,920.0L719.3,928.0M721.0,928.2L721.5,923.7M722.0,918.5L723.1,904.3M723.8,904.3L724.4,907.9M725.0,913.1L725.4,920.8M725.9,926.0L726.4,929.9M728.0,930.1L729.1,921.8M729.5,916.7L731.5,864.1M731.6,864.1L732.6,915.7M733.1,920.9L734.4,930.3M736.1,930.5L737.4,918.6M737.9,913.4L739.5,881.2M739.7,881.2L740.9,918.0M741.3,923.2L742.3,929.9M743.9,930.1L745.4,911.7M747.7,907.1L748.4,919.0M748.9,924.2L749.3,928.0M751.0,928.3L752.8,918.6M753.4,913.4L754.3,896.4M754.5,896.4L755.6,927.1M757.2,927.3L758.3,921.4M758.9,916.2L759.7,896.4M759.9,896.4L760.8,917.1M761.2,922.3L761.5,924.8M763.0,925.0L763.1,923.2M763.5,918.1L764.8,905.4M765.3,905.4L766.5,922.2M766.7,922.2L768.1,792.4M768.1,787.2L769.4,146.7"/>
</g>
<g clip-path="url(#cp)" fill="#0000ff">
<circle cx="162.66" cy="185.00" r="4.7"/>
<circle cx="230.08" cy="188.80" r="4.7"/>
<circle cx="297.50" cy="187.00" r="4.7"/>
<circle cx="364.91" cy="182.40" r="4.7"/>
<circle cx="432.32" cy="176.90" r="4.7"/>
<circle cx="499.74" cy="170.80" r="4.7"/>
<circle cx="567.15" cy="163.90" r="4.7"/>
<circle cx="634.57" cy="156.90" r="4.7"/>
<circle cx="701.98" cy="148.90" r="4.7"/>
<circle cx="769.40" cy="141.00" r="4.7"/>
</g>
<g stroke="#000" stroke-width="1.90" fill="none" stroke-linecap="butt">
<line x1="94.30" y1="17.30" x2="770.35" y2="17.30"/>
<line x1="94.30" y1="487.60" x2="770.35" y2="487.60"/>
<line x1="95.25" y1="17.30" x2="95.25" y2="248.80"/>
<line x1="95.25" y1="256.60" x2="95.25" y2="487.60"/>
<line x1="769.40" y1="17.30" x2="769.40" y2="248.80"/>
<line x1="769.40" y1="256.60" x2="769.40" y2="487.60"/>
</g>
<g stroke="#000" stroke-width="1.5" fill="none">
<line x1="86.25" y1="253.20" x2="104.45" y2="244.40"/>
<line x1="86.25" y1="260.80" x2="104.45" y2="252.40"/>
<line x1="760.40" y1="253.20" x2="778.60" y2="244.40"/>
<line x1="760.40" y1="260.80" x2="778.60" y2="252.40"/>
</g>
<g font-size="31" text-anchor="end">
<text x="87.2" y="496.50" letter-spacing="0.9">20</text>
<text x="87.2" y="450.30" letter-spacing="0.9">22</text>
<text x="87.2" y="404.10" letter-spacing="0.9">24</text>
<text x="87.2" y="357.90" letter-spacing="0.9">26</text>
<text x="87.2" y="311.70" letter-spacing="0.9">28</text>
<text x="87.2" y="257.00" letter-spacing="0.9">40</text>
<text x="87.2" y="164.56" letter-spacing="0.9">42</text>
<text x="87.2" y="72.12" letter-spacing="0.9">44</text>
</g>
<g font-size="31" text-anchor="middle">
<text x="94.75" y="521.2">0</text>
<text x="229.58" y="521.2">1</text>
<text x="364.41" y="521.2">2</text>
<text x="499.24" y="521.2">3</text>
<text x="634.07" y="521.2">4</text>
<text x="768.90" y="521.2">5</text>
</g>
<text x="431.8" y="555.7" font-size="31" font-style="italic" text-anchor="middle">t</text>
<line x1="34.3" y1="309.9" x2="34.3" y2="288.6" stroke="#000" stroke-width="1.7"/>
<text transform="translate(42.4,288.6) rotate(-90)" font-size="33">lg(<tspan font-size="36.5">ε</tspan>(<tspan font-style="italic" font-size="31">t</tspan><tspan dx="-1.3">))</tspan></text>
<g font-size="33">
<text x="107" y="51.3">solution type</text>
<text x="207" y="92.0">local</text>
<text x="207" y="133.5">imp. local</text>
<text x="207" y="175.0">nodes</text>
<text x="479.6" y="65.3"><tspan font-style="italic">N</tspan> = <tspan dx="1.9">12</tspan></text>
<text x="479.5" y="105.9">grid <tspan letter-spacing="0.35">domains</tspan> <tspan dx="0.3">=</tspan> <tspan dx="0.8">10</tspan></text>
</g>
<line x1="106.3" y1="81.4" x2="182" y2="81.4" stroke="#000" stroke-width="0.9"/>
<rect x="141.9" y="79.4" width="4" height="4" fill="#000"/>
<line x1="106.3" y1="123.1" x2="182" y2="123.1" stroke="#ff0000" stroke-width="0.9"/>
<circle cx="143.9" cy="123.1" r="2.35" fill="#ff0000"/>
<circle cx="144.2" cy="164.0" r="4.7" fill="#0000ff"/>
</svg></body></html>
